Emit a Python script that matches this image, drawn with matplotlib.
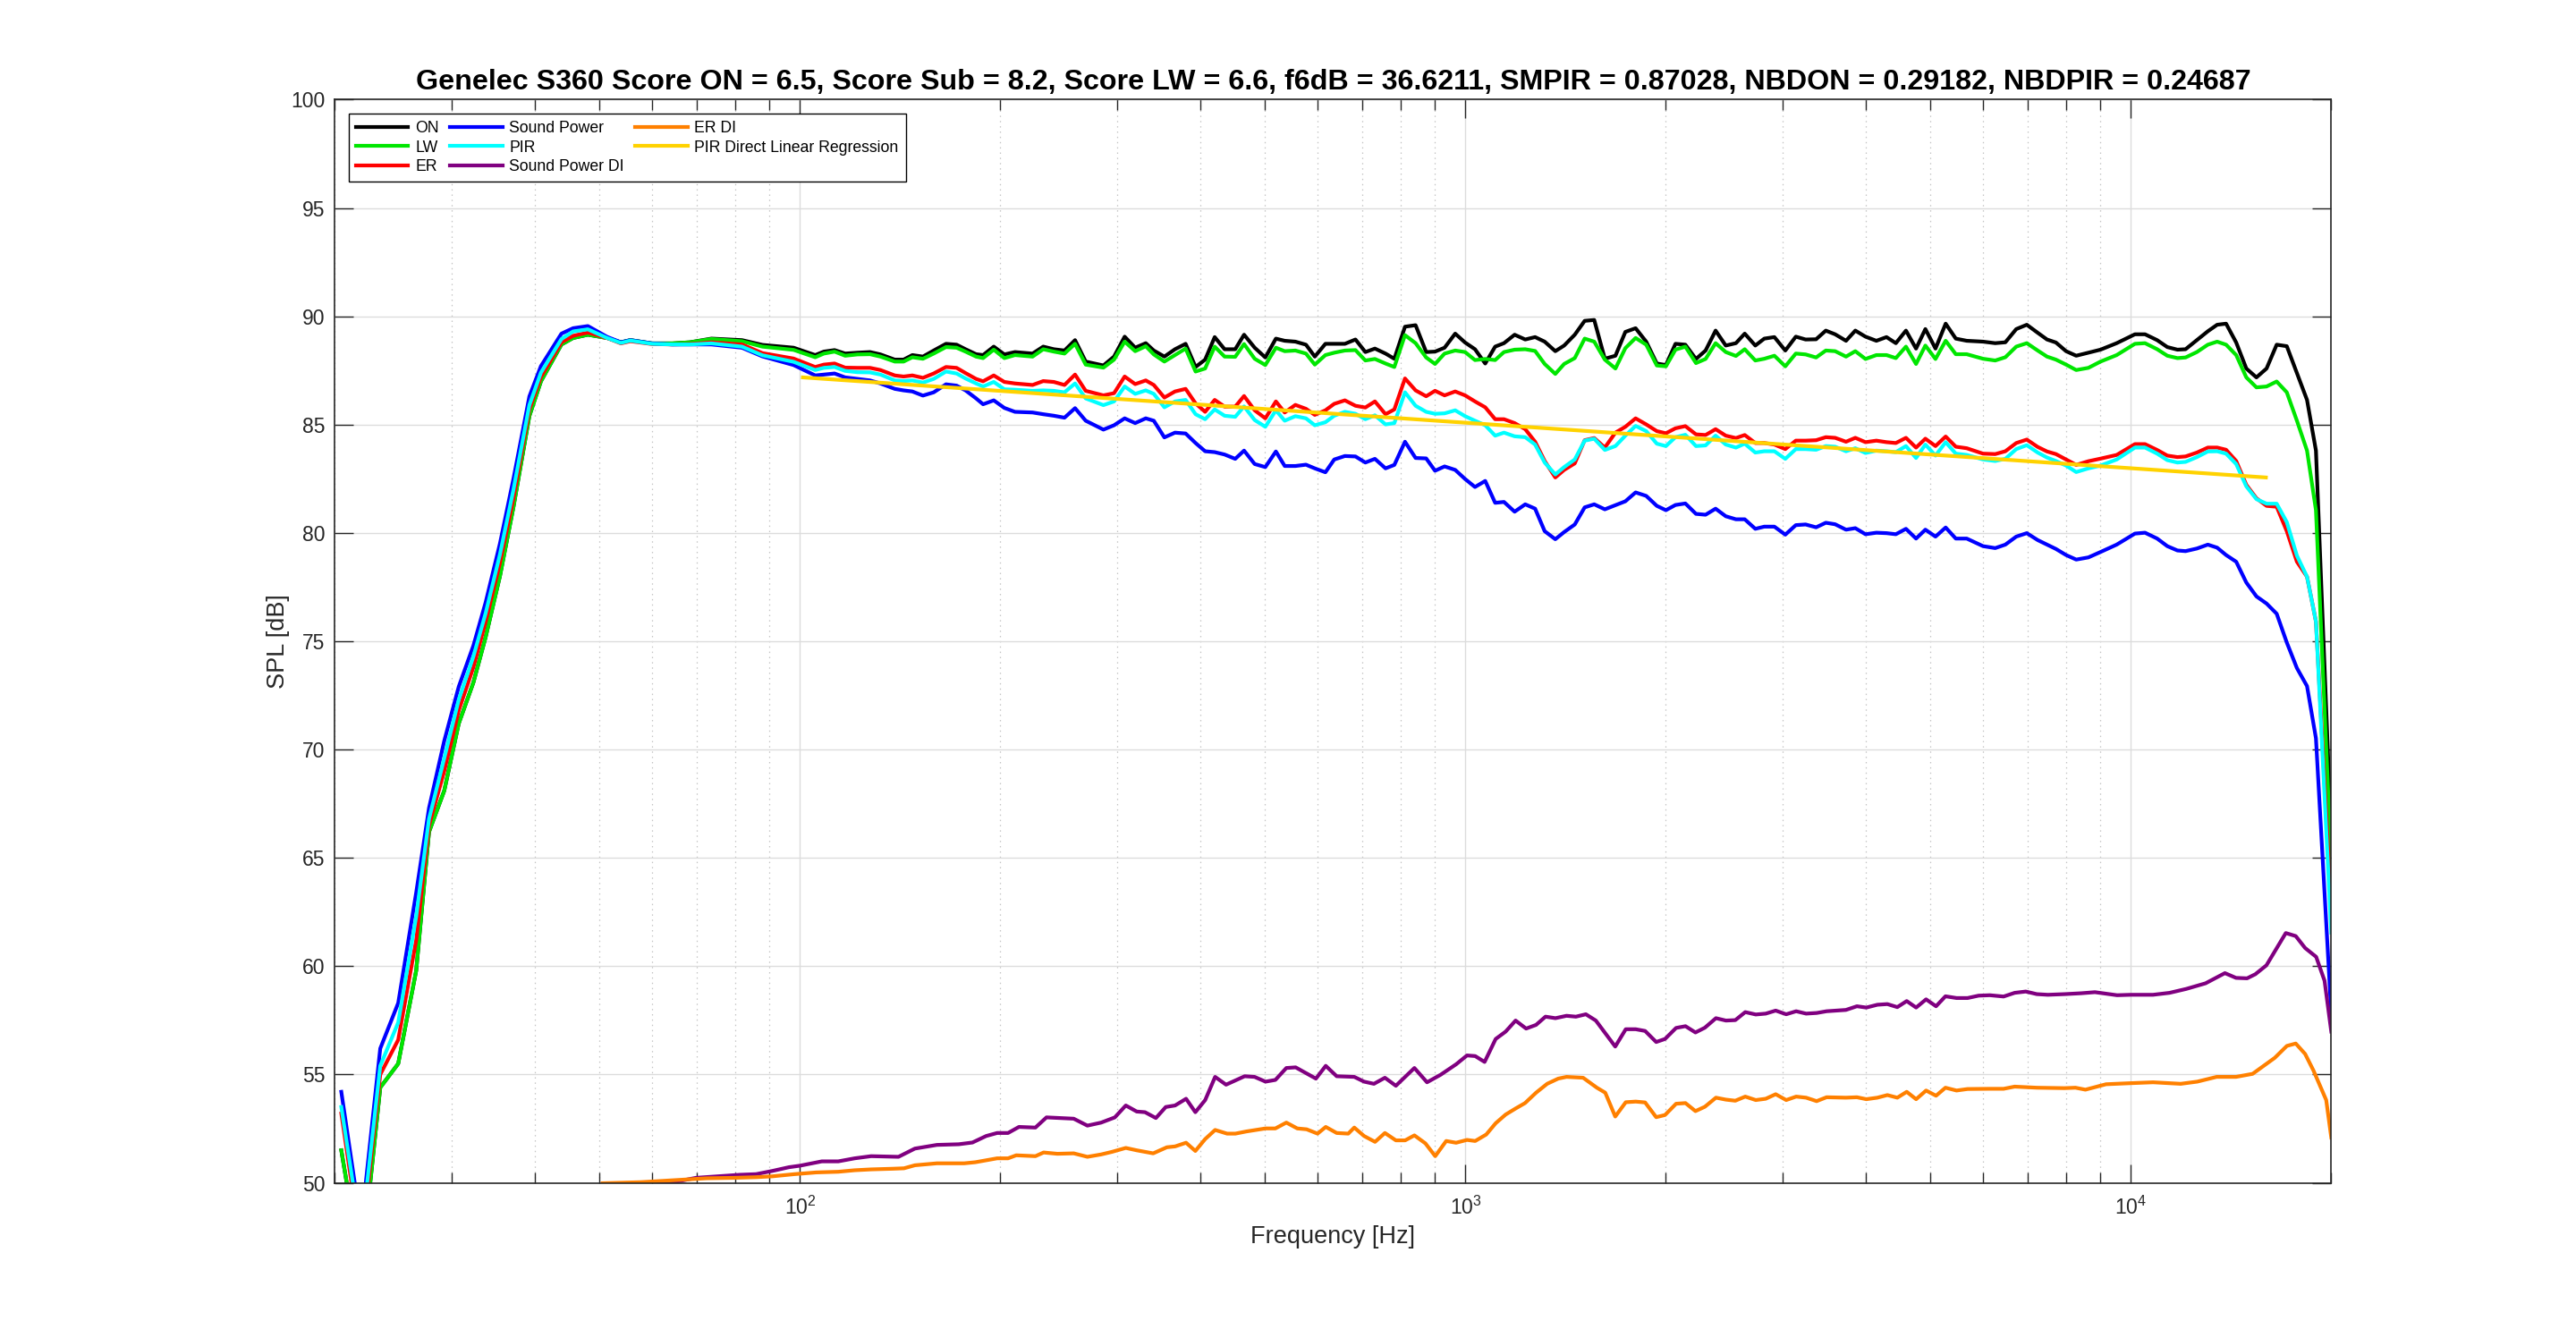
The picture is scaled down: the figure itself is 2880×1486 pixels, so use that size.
import matplotlib
matplotlib.use('Agg')
import matplotlib.pyplot as plt
from matplotlib.ticker import LogLocator, NullFormatter, MultipleLocator

freq_a = [20.45, 21.9, 23.4, 24.9, 26.5, 27.7, 29.2, 30.7, 32.3, 33.7, 35.4, 37.1, 39.2, 40.8,
          43.8, 45.6, 48.0, 51.3, 53.8, 55.6, 59.9, 64.3, 68.3, 73.6, 81.8, 87.8, 97.8]
freq_b = [105.4, 108.6, 112.7, 116.9, 122.0, 127.4, 132.1, 138.8, 143.1, 147.5, 153.0, 158.8,
          165.7, 171.9, 177.3, 183.9, 188.4, 195.5, 202.8, 210.4, 223.6, 232.0, 240.7, 249.7,
          259.0, 268.7, 285.7, 296.4, 307.5, 318.9, 330.8]
freq_c = [340.1, 352.8, 366.0, 379.7, 393.0, 406.2, 419.9, 434.5, 450.8, 464.8, 482.2, 500.3,
          518.9, 535.0, 555.1, 575.8, 593.7, 615.9, 635.0, 658.8, 683.4, 707.2, 731.0, 758.3,
          781.8, 811.1, 841.4, 872.8, 900.0, 930.2, 965.0, 998.6, 1033.4, 1070.7, 1108.1, 1142.5,
          1185.3, 1229.6, 1272.4, 1315.2, 1364.5, 1406.9, 1459.5, 1510.4, 1561.2, 1619.6, 1680.1,
          1738.7, 1801.5, 1868.7, 1938.6, 2000.7, 2067.9, 2139.9, 2220.0]
freq_d = [2295, 2376, 2461, 2549, 2628, 2726, 2812, 2912, 3024, 3136, 3244, 3364, 3479, 3593,
          3731, 3853, 3991, 4144, 4292, 4433, 4591, 4754, 4910, 5085, 5267, 5455, 5665, 5994,
          6252, 6475, 6724, 6974, 7242, 7479, 7714, 7989, 8274, 8630, 9001, 9518, 10138, 10499,
          10949, 11340, 11745, 12079, 12562, 13048, 13475, 13898, 14393, 14906, 15437, 15987,
          16557, 17147, 17758, 18390, 18967, 20000]
freq_main = freq_a + freq_b + freq_c + freq_d

on_spl = [
    51.5, 46.0, 54.4, 55.5, 59.8, 66.2, 68.1, 71.2, 73.1, 75.2, 78.0, 81.2, 85.4, 87.0, 88.7, 89.0,
    89.15, 89.0, 88.8, 88.9, 88.75, 88.75, 88.8, 88.97, 88.9, 88.68, 88.55,
    88.21, 88.37, 88.44, 88.28, 88.32, 88.35, 88.24, 88.00, 88.00, 88.21, 88.14, 88.42, 88.73, 88.69,
    88.48, 88.25, 88.21, 88.60, 88.24, 88.35, 88.28, 88.60, 88.48, 88.42, 88.90, 87.91, 87.73, 88.14,
    89.06, 88.55, 88.76,
    88.42, 88.14, 88.48, 88.73, 87.66, 88.00, 89.04, 88.48, 88.48, 89.15, 88.55, 88.10, 88.97, 88.87,
    88.83, 88.69, 88.14, 88.73, 88.73, 88.73, 88.93, 88.35, 88.51, 88.28, 88.04, 89.52, 89.59, 88.35,
    88.37, 88.55, 89.20, 88.79, 88.48, 87.82, 88.60, 88.76, 89.15, 88.93, 89.04, 88.83, 88.39, 88.65,
    89.15, 89.79, 89.83, 88.04, 88.18, 89.28, 89.45, 88.83, 87.82, 87.75, 88.73, 88.69, 88.03,
    88.42, 89.34, 88.65, 88.76, 89.20, 88.65, 88.97, 89.04, 88.42, 89.06, 88.93, 88.94, 89.34, 89.17,
    88.87, 89.34, 89.06, 88.87, 89.04, 88.76, 89.34, 88.51, 89.41, 88.51, 89.66, 88.97, 88.87, 88.83,
    88.76, 88.80, 89.41, 89.61, 89.24, 88.93, 88.79, 88.39, 88.18, 88.32, 88.46, 88.76, 89.17, 89.17,
    88.90, 88.58, 88.46, 88.48, 88.90, 89.31, 89.61, 89.66, 88.79, 87.59, 87.18, 87.59, 88.69, 88.62,
    87.38, 86.14, 83.80, 65.97]

lw_spl = [
    51.5, 46.0, 54.4, 55.5, 59.8, 66.2, 68.1, 71.2, 73.1, 75.2, 78.0, 81.2, 85.4, 87.0, 88.7, 89.0,
    89.15, 89.0, 88.8, 88.9, 88.75, 88.75, 88.8, 88.95, 88.85, 88.6, 88.45,
    88.11, 88.28, 88.37, 88.18, 88.24, 88.25, 88.14, 87.91, 87.91, 88.11, 88.04, 88.28, 88.58, 88.55,
    88.37, 88.14, 88.07, 88.46, 88.07, 88.21, 88.14, 88.48, 88.37, 88.28, 88.73, 87.77, 87.63, 88.00,
    88.83, 88.39, 88.62,
    88.24, 87.91, 88.21, 88.51, 87.45, 87.59, 88.60, 88.14, 88.13, 88.72, 88.04, 87.75, 88.55, 88.39,
    88.42, 88.28, 87.77, 88.21, 88.32, 88.42, 88.44, 87.96, 88.03, 87.82, 87.66, 89.13, 88.76, 88.10,
    87.80, 88.28, 88.42, 88.35, 87.98, 88.03, 87.98, 88.35, 88.46, 88.48, 88.40, 87.80, 87.34, 87.80,
    88.07, 88.97, 88.83, 88.00, 87.59, 88.53, 89.00, 88.69, 87.73, 87.69, 88.46, 88.60, 87.84,
    88.03, 88.76, 88.35, 88.17, 88.48, 87.96, 88.04, 88.18, 87.69, 88.28, 88.24, 88.10, 88.42, 88.39,
    88.14, 88.39, 88.03, 88.21, 88.21, 88.07, 88.60, 87.80, 88.65, 88.03, 88.87, 88.25, 88.25, 88.04,
    87.96, 88.11, 88.60, 88.76, 88.42, 88.14, 88.00, 87.77, 87.52, 87.62, 87.91, 88.21, 88.73, 88.76,
    88.48, 88.18, 88.07, 88.10, 88.35, 88.69, 88.83, 88.69, 88.21, 87.18, 86.72, 86.76, 86.99, 86.49,
    85.18, 83.80, 81.05, 64.72]

er_spl = [
    53.2, 47.0, 55.0, 56.6, 61.2, 66.5, 69.0, 71.8, 73.8, 75.9, 78.6, 81.6, 85.7, 87.2, 88.8, 89.1,
    89.25, 89.0, 88.75, 88.85, 88.72, 88.7, 88.72, 88.8, 88.7, 88.3, 88.05,
    87.66, 87.77, 87.82, 87.63, 87.62, 87.62, 87.52, 87.27, 87.22, 87.27, 87.16, 87.36, 87.66, 87.62,
    87.38, 87.11, 87.00, 87.27, 86.97, 86.90, 86.83, 87.01, 86.97, 86.83, 87.31, 86.56, 86.35, 86.45,
    87.22, 86.87, 87.04,
    86.83, 86.25, 86.53, 86.65, 85.98, 85.59, 86.14, 85.83, 85.83, 86.32, 85.66, 85.29, 86.07, 85.56,
    85.91, 85.73, 85.45, 85.66, 85.96, 86.12, 85.87, 85.79, 86.07, 85.48, 85.70, 87.13, 86.58, 86.31,
    86.56, 86.35, 86.53, 86.35, 86.07, 85.80, 85.25, 85.25, 85.07, 84.79, 84.21, 83.32, 82.56, 82.91,
    83.21, 84.28, 84.38, 83.94, 84.63, 84.90, 85.29, 85.01, 84.70, 84.60, 84.83, 84.93, 84.55,
    84.52, 84.79, 84.49, 84.38, 84.52, 84.15, 84.15, 84.08, 83.87, 84.26, 84.26, 84.28, 84.42, 84.39,
    84.21, 84.39, 84.19, 84.26, 84.19, 84.15, 84.39, 83.94, 84.35, 84.01, 84.45, 83.98, 83.91, 83.66,
    83.64, 83.77, 84.15, 84.31, 83.97, 83.76, 83.64, 83.39, 83.14, 83.31, 83.43, 83.60, 84.10, 84.10,
    83.83, 83.57, 83.50, 83.53, 83.71, 83.94, 83.94, 83.84, 83.32, 82.22, 81.60, 81.25, 81.21, 80.08,
    78.67, 77.98, 75.91, 62.65]

sp_spl = [
    54.2, 48.0, 56.2, 58.3, 63.4, 67.3, 70.4, 72.9, 74.8, 76.8, 79.5, 82.5, 86.3, 87.7, 89.2, 89.45,
    89.55, 89.05, 88.8, 88.9, 88.75, 88.7, 88.7, 88.7, 88.55, 88.15, 87.75,
    87.27, 87.31, 87.36, 87.18, 87.11, 87.04, 86.90, 86.65, 86.58, 86.53, 86.34, 86.49, 86.86, 86.80,
    86.58, 86.21, 85.94, 86.12, 85.77, 85.59, 85.56, 85.48, 85.41, 85.32, 85.76, 85.18, 84.77, 84.97,
    85.29, 85.07, 85.29,
    85.18, 84.41, 84.63, 84.59, 84.15, 83.77, 83.73, 83.62, 83.42, 83.80, 83.18, 83.04, 83.76, 83.09,
    83.09, 83.15, 82.98, 82.80, 83.39, 83.55, 83.53, 83.25, 83.42, 82.98, 83.14, 84.21, 83.46, 83.44,
    82.87, 83.07, 82.91, 82.49, 82.12, 82.40, 81.39, 81.43, 80.98, 81.32, 81.12, 80.08, 79.71, 80.04,
    80.39, 81.18, 81.32, 81.09, 81.28, 81.46, 81.87, 81.71, 81.25, 81.05, 81.29, 81.36, 80.88,
    80.84, 81.12, 80.77, 80.63, 80.63, 80.19, 80.29, 80.29, 79.92, 80.36, 80.39, 80.26, 80.47, 80.40,
    80.15, 80.22, 79.94, 80.01, 79.99, 79.94, 80.19, 79.74, 80.15, 79.83, 80.25, 79.74, 79.74, 79.39,
    79.30, 79.46, 79.83, 79.99, 79.67, 79.46, 79.26, 78.98, 78.77, 78.87, 79.12, 79.46, 79.97, 80.01,
    79.74, 79.39, 79.19, 79.16, 79.28, 79.46, 79.32, 78.98, 78.67, 77.71, 77.07, 76.74, 76.27, 74.94,
    73.76, 72.93, 70.52, 57.82]

pir_spl = [
    53.5, 47.5, 55.4, 57.4, 62.3, 66.8, 69.6, 72.3, 74.3, 76.3, 79.0, 82.0, 85.9, 87.4, 88.95, 89.3,
    89.4, 89.0, 88.77, 88.88, 88.73, 88.7, 88.7, 88.75, 88.6, 88.2, 87.9,
    87.52, 87.62, 87.66, 87.48, 87.42, 87.41, 87.31, 87.04, 87.01, 87.04, 86.94, 87.11, 87.45, 87.36,
    87.13, 86.90, 86.76, 86.97, 86.63, 86.61, 86.56, 86.58, 86.56, 86.49, 86.90, 86.21, 85.90, 86.07,
    86.76, 86.42, 86.58,
    86.42, 85.80, 86.07, 86.14, 85.48, 85.25, 85.70, 85.41, 85.36, 85.84, 85.21, 84.90, 85.66, 85.18,
    85.39, 85.29, 84.97, 85.11, 85.41, 85.59, 85.50, 85.25, 85.43, 85.01, 85.07, 86.49, 85.87, 85.59,
    85.50, 85.52, 85.66, 85.39, 85.18, 84.97, 84.49, 84.63, 84.46, 84.42, 84.08, 83.25, 82.70, 83.04,
    83.39, 84.26, 84.35, 83.83, 84.01, 84.49, 84.94, 84.70, 84.12, 84.01, 84.42, 84.53, 84.01,
    84.04, 84.49, 84.08, 83.94, 84.12, 83.71, 83.77, 83.77, 83.42, 83.87, 83.87, 83.84, 84.01, 83.98,
    83.77, 83.91, 83.69, 83.80, 83.77, 83.73, 84.01, 83.46, 84.08, 83.57, 84.19, 83.66, 83.60, 83.39,
    83.32, 83.42, 83.87, 84.05, 83.71, 83.48, 83.32, 83.11, 82.81, 82.98, 83.11, 83.39, 83.94, 83.94,
    83.66, 83.36, 83.25, 83.28, 83.50, 83.76, 83.77, 83.66, 83.18, 82.15, 81.56, 81.35, 81.35, 80.50,
    78.95, 77.98, 75.91, 61.55]

# Sound Power DI
freq_spdi = [
    58.24, 64.66, 69.75, 75.22, 81.18, 85.91, 90.92, 96.24, 99.97, 107.84, 114.14, 120.8, 127.9,
    140.6, 148.8, 160.6, 173.2, 181.6, 190.4, 197.8, 205.4, 213.3, 225.8, 234.6, 257.8, 270.3,
    283.5, 297.2, 308.7, 320.6, 329.9, 342.6, 354.5, 366.1, 380.3, 392.7, 406.3, 420.5, 436.7,
    465.8, 482.0, 500.6, 518.0, 538.0, 555.6, 596.0, 616.6, 640.4, 680.6, 704.1, 728.5, 756.7,
    785.9, 838.0, 875.4, 917.8, 968.0, 1005.3,
    1034.2, 1068.4, 1110.1, 1149.0, 1189.3, 1233.4, 1276.6, 1318.9, 1365.1, 1418.4, 1465.3, 1516.7,
    1569.9, 1621.9, 1678.9, 1741.1, 1802.2, 1861.7, 1934.4, 1994.5, 2072.3, 2140.9, 2215.9, 2289.3,
    2378.7, 2462.1, 2543.6, 2632.7, 2730.2, 2825.9, 2925.0, 3033.3, 3139.7, 3249.8, 3370.2, 3488.4,
    3728.8, 3874.4, 4002.5, 4158.8, 4304.6, 4455.5, 4603.0, 4755.3, 4921.9, 5094.4, 5263.0, 5468.5,
    5681.9, 5903.7, 6135.1, 6436.1, 6687.3, 6948.4, 7219.7, 7501.5, 7943.0, 8413.1, 8828.2, 9173.7,
    9531.8, 9997, 10794, 11429, 12106, 12946, 13841, 14384, 14945, 15380, 15980, 17087, 17686,
    18268, 18981, 19539, 20000]
spdi = [
    49.96, 50.03, 50.23, 50.30, 50.37, 50.40, 50.55, 50.72, 50.79, 50.99, 50.99, 51.13, 51.23,
    51.20, 51.58, 51.75, 51.78, 51.86, 52.16, 52.30, 52.30, 52.58, 52.55, 53.02, 52.96, 52.64,
    52.78, 53.02, 53.57, 53.29, 53.26, 52.99, 53.50, 53.57, 53.88, 53.26, 53.82, 54.89, 54.53,
    54.92, 54.89, 54.67, 54.75, 55.30, 55.33, 54.81, 55.40, 54.92, 54.89, 54.67, 54.57, 54.85,
    54.48, 55.30, 54.64, 54.99, 55.47, 55.88,
    55.85, 55.58, 56.64, 56.98, 57.49, 57.12, 57.29, 57.67, 57.60, 57.71, 57.67, 57.78,
    57.49, 56.91, 56.29, 57.09, 57.09, 57.01, 56.50, 56.64, 57.15, 57.23, 56.94, 57.16,
    57.60, 57.49, 57.51, 57.88, 57.77, 57.81, 57.95, 57.78, 57.92, 57.81, 57.84, 57.92,
    57.98, 58.15, 58.09, 58.22, 58.25, 58.11, 58.39, 58.09, 58.47, 58.15, 58.61, 58.53,
    58.53, 58.64, 58.66, 58.60, 58.77, 58.83, 58.71, 58.68, 58.71, 58.75, 58.80, 58.73,
    58.66, 58.68, 58.68, 58.77, 58.95, 59.21, 59.68, 59.46, 59.44, 59.63, 60.04, 61.53, 61.39,
    60.84, 60.43, 59.33, 56.98]

# ER DI
freq_erdi = [
    50.5, 57.69, 64.66, 72.44, 79.65, 85.91, 90.92, 98.09, 105.8, 114.14, 120.8, 127.9, 138.0,
    143.3, 148.8, 160.6, 176.5, 183.4, 197.8, 205.4, 211.3, 225.8, 232.3, 243.6, 257.8, 270.3,
    283.5, 294.4, 308.7, 320.6, 339.4, 355.8, 366.1, 380.3, 392.7, 406.3, 420.5, 438.3, 451.0,
    468.4, 500.6, 518.0, 538.0, 558.8, 577.1, 599.4, 616.6, 640.4, 666.6, 680.6, 704.1, 731.3,
    756.7, 785.9, 811.6, 838.0, 870.5, 900.6, 935.4, 968.0, 1005.3,
    1034.2, 1074.5, 1110.1, 1149.0, 1189.3, 1228.7, 1276.6, 1326.5, 1378.2, 1418.4, 1502.3, 1575.6,
    1621.9, 1678.9, 1741.1, 1802.2, 1861.7, 1934.4, 1994.5, 2072.3, 2140.9, 2215.9, 2289.3, 2378.7,
    2462.1, 2543.6, 2632.7, 2730.2, 2825.9, 2925.0, 3033.3, 3139.7, 3249.8, 3370.2, 3488.4, 3728.8,
    3874.4, 4002.5, 4158.8, 4304.6, 4455.5, 4603.0, 4755.3, 4921.9, 5094.4, 5263.0, 5468.5, 5681.9,
    6135.1, 6436.1, 6687.3, 7219.7, 7943.0, 8253, 8542, 9173.7, 9997, 10794, 11877, 12578, 13451,
    14384, 15233, 16449, 17152, 17686, 18268, 18800, 19652, 20000]
erdi = [
    49.98, 50.03, 50.12, 50.21, 50.23, 50.26, 50.30, 50.40, 50.48, 50.51, 50.58, 50.62, 50.65,
    50.67, 50.81, 50.90, 50.90, 50.95, 51.13, 51.13, 51.27, 51.23, 51.40, 51.34, 51.36, 51.20,
    51.31, 51.43, 51.61, 51.50, 51.36, 51.64, 51.68, 51.85, 51.47, 52.02, 52.44, 52.27, 52.27,
    52.37, 52.51, 52.51, 52.78, 52.51, 52.47, 52.27, 52.58, 52.30, 52.27, 52.55, 52.16, 51.89,
    52.30, 51.96, 51.96, 52.19, 51.82, 51.23, 51.93, 51.85, 51.98,
    51.93, 52.23, 52.75, 53.15, 53.43, 53.68, 54.16, 54.57, 54.81, 54.89, 54.85, 54.39,
    54.16, 53.06, 53.72, 53.75, 53.71, 53.03, 53.13, 53.65, 53.68, 53.31, 53.51, 53.93,
    53.84, 53.79, 53.98, 53.82, 53.88, 54.09, 53.82, 53.98, 53.93, 53.77, 53.95, 53.93,
    53.95, 53.86, 53.93, 54.05, 53.93, 54.20, 53.86, 54.26, 54.02, 54.39, 54.26, 54.33,
    54.34, 54.34, 54.44, 54.39, 54.37, 54.39, 54.30, 54.55, 54.60, 54.64, 54.57, 54.67, 54.89,
    54.89, 55.03, 55.77, 56.32, 56.43, 55.95, 55.19, 53.82, 52.09]

# PIR Direct Linear Regression (Endpunkte)
freq_reg = [101, 15950]
pir_reg = [87.18, 82.56]

title = ('Genelec S360 Score ON = 6.5, Score Sub = 8.2, Score LW = 6.6, f6dB = 36.6211, '
         'SMPIR = 0.87028, NBDON = 0.29182, NBDPIR = 0.24687')

plt.rcParams['font.family'] = ['Liberation Sans', 'DejaVu Sans']
plt.rcParams['mathtext.fontset'] = 'custom'
plt.rcParams['mathtext.rm'] = 'Liberation Sans'

fig = plt.figure(figsize=(28.8, 14.86), dpi=100)
ax = fig.add_axes([0.13, 0.11, 0.775, 0.815])

lw = 3.0
ax.semilogx(freq_main, on_spl, color='black', lw=lw, label='ON')
ax.semilogx(freq_main, lw_spl, color='#00e600', lw=lw, label='LW')
ax.semilogx(freq_main, er_spl, color='#ff0000', lw=lw, label='ER')
ax.semilogx(freq_main, sp_spl, color='#0000ff', lw=lw, label='Sound Power')
ax.semilogx(freq_main, pir_spl, color='#00ffff', lw=lw, label='PIR')
ax.semilogx(freq_spdi, spdi, color='#800080', lw=lw, label='Sound Power DI')
ax.semilogx(freq_erdi, erdi, color='#ff8000', lw=lw, label='ER DI')
ax.semilogx(freq_reg, pir_reg, color='#ffd200', lw=lw, label='PIR Direct Linear Regression')

ax.set_xlim(20, 20000)
ax.set_ylim(50, 100)
ax.yaxis.set_major_locator(MultipleLocator(5))
ax.xaxis.set_major_locator(LogLocator(base=10))
ax.xaxis.set_minor_locator(LogLocator(base=10, subs=range(2, 10)))
ax.xaxis.set_minor_formatter(NullFormatter())

ax.set_axisbelow(True)
ax.grid(True, which='major', color='#dcdcdc', lw=1.0, ls='-')
ax.grid(True, which='minor', axis='x', color='#c4c4c4', lw=0.9, ls=(0, (1.2, 3.5)))

ax.tick_params(which='both', direction='in', top=True, right=True, labelsize=16.5,
               colors='#262626', width=1.0)
ax.tick_params(axis='x', pad=11)
ax.tick_params(axis='y', pad=8)
ax.tick_params(which='major', length=15)
ax.tick_params(which='minor', length=8.5)
for sp in ax.spines.values():
    sp.set_color('#262626')
    sp.set_linewidth(1.2)

ax.set_title(title, fontsize=23.2, fontweight='bold', pad=8, color='black')
ax.set_xlabel('Frequency [Hz]', fontsize=19.5, labelpad=5, color='#262626')
ax.set_ylabel('SPL [dB]', fontsize=19.5, labelpad=1, color='#262626')

leg = ax.legend(loc='upper left', ncol=3, fontsize=12.7, frameon=True, fancybox=False,
                edgecolor='black', framealpha=1, borderaxespad=0.9, borderpad=0.45,
                handlelength=3.3, handletextpad=0.45, columnspacing=0.7, labelspacing=0.25)
leg.get_frame().set_linewidth(1.0)

plt.savefig('out.png', dpi=100)
plt.close()
